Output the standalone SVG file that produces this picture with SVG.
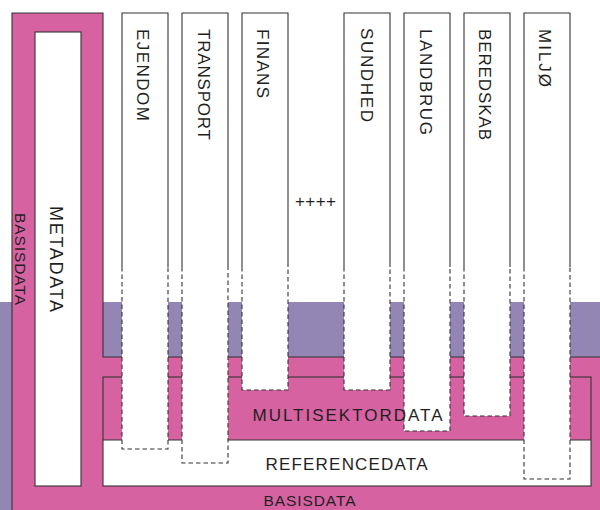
<svg xmlns="http://www.w3.org/2000/svg" width="600" height="510" viewBox="0 0 600 510">
  <style>
    .edge { fill: none; stroke: #333333; stroke-width: 1.1; }
    .dash { fill: none; stroke: #333333; stroke-width: 1.1; stroke-dasharray: 4.5 3; }
    .white { fill: #ffffff; }
    .pink { fill: #d662a2; }
    .purple { fill: #9386b5; }
    .lbl { font-family: "Liberation Sans", Arial, sans-serif; fill: #1f1f1f; }
    .sector { font-size: 17px; }
  </style>

  <!-- shared layer band -->
  <rect class="purple" x="0" y="302" width="600" height="208"/>

  <!-- basisdata: L-shaped base layer -->
  <g id="basisdata">
    <path class="pink" d="M12,13 H103 V357 H600 V510 H12 Z"/>
    <path class="edge" d="M12,510 V13 H103 V357 H600"/>
    <text class="lbl" font-size="15.5" transform="translate(15,213) rotate(90)" textLength="92" lengthAdjust="spacing">BASISDATA</text>
    <text class="lbl" font-size="15.5" x="263.5" y="506" textLength="92" lengthAdjust="spacing">BASISDATA</text>
  </g>

  <!-- referencedata and multisektordata block -->
  <g id="referencedata">
    <rect class="white" x="103" y="440" width="488" height="46"/>
    <rect class="edge" x="103" y="377" width="488" height="109"/>
    <line class="edge" x1="103" y1="440" x2="591" y2="440"/>
  </g>

  <!-- metadata column -->
  <g id="metadata">
    <rect class="white" x="35" y="32" width="46" height="454"/>
    <rect class="edge" x="35" y="32" width="46" height="454"/>
    <text class="lbl" font-size="18" transform="translate(50,206) rotate(90)" textLength="106" lengthAdjust="spacing">METADATA</text>
  </g>

  <!-- sector columns: solid top, dashed where they reach into the shared layers -->
  <g id="ejendom">
    <rect class="white" x="122" y="13" width="46" height="436"/>
    <path class="edge" d="M122,267 V13 H168 V267"/>
    <path class="dash" d="M122,267 V449 H168 V267"/>
    <text class="lbl sector" transform="translate(137,29) rotate(90)" textLength="92" lengthAdjust="spacing">EJENDOM</text>
  </g>
  <g id="transport">
    <rect class="white" x="182" y="13" width="46" height="450"/>
    <path class="edge" d="M182,267 V13 H228 V267"/>
    <path class="dash" d="M182,267 V463 H228 V267"/>
    <text class="lbl sector" transform="translate(197.5,29) rotate(90)" textLength="111" lengthAdjust="spacing">TRANSPORT</text>
  </g>
  <g id="finans">
    <rect class="white" x="242" y="13" width="46" height="377"/>
    <path class="edge" d="M242,267 V13 H288 V267"/>
    <path class="dash" d="M242,267 V390 H288 V267"/>
    <text class="lbl sector" transform="translate(257,29) rotate(90)" textLength="69" lengthAdjust="spacing">FINANS</text>
  </g>
  <g id="flere">
    <text class="lbl" font-size="17" x="295" y="207" textLength="41" lengthAdjust="spacing">++++</text>
  </g>
  <g id="sundhed">
    <rect class="white" x="344" y="13" width="46" height="377"/>
    <path class="edge" d="M344,267 V13 H390 V267"/>
    <path class="dash" d="M344,267 V390 H390 V267"/>
    <text class="lbl sector" transform="translate(360.5,28) rotate(90)" textLength="94" lengthAdjust="spacing">SUNDHED</text>
  </g>
  <g id="landbrug">
    <rect class="white" x="404" y="13" width="46" height="418"/>
    <path class="edge" d="M404,267 V13 H450 V267"/>
    <path class="dash" d="M404,267 V431 H450 V267"/>
    <text class="lbl sector" transform="translate(419.5,29) rotate(90)" textLength="106" lengthAdjust="spacing">LANDBRUG</text>
  </g>
  <g id="beredskab">
    <rect class="white" x="464" y="13" width="46" height="403"/>
    <path class="edge" d="M464,267 V13 H510 V267"/>
    <path class="dash" d="M464,267 V416 H510 V267"/>
    <text class="lbl sector" transform="translate(478.5,29) rotate(90)" textLength="111" lengthAdjust="spacing">BEREDSKAB</text>
  </g>
  <g id="miljo">
    <rect class="white" x="524" y="13" width="46" height="466"/>
    <path class="edge" d="M524,267 V13 H570 V267"/>
    <path class="dash" d="M524,267 V479 H570 V267"/>
    <text class="lbl sector" transform="translate(538.5,29) rotate(90)" textLength="58" lengthAdjust="spacing">MILJØ</text>
  </g>

  <!-- layer labels drawn above the columns -->
  <g id="multisektordata">
    <text class="lbl" font-size="17" x="252.5" y="421" textLength="190" lengthAdjust="spacing">MULTISEKTORDATA</text>
  </g>
  <g id="referencedata-label">
    <text class="lbl" font-size="17" x="265.5" y="470" textLength="162" lengthAdjust="spacing">REFERENCEDATA</text>
  </g>

  <g id="connectors"/>
</svg>
